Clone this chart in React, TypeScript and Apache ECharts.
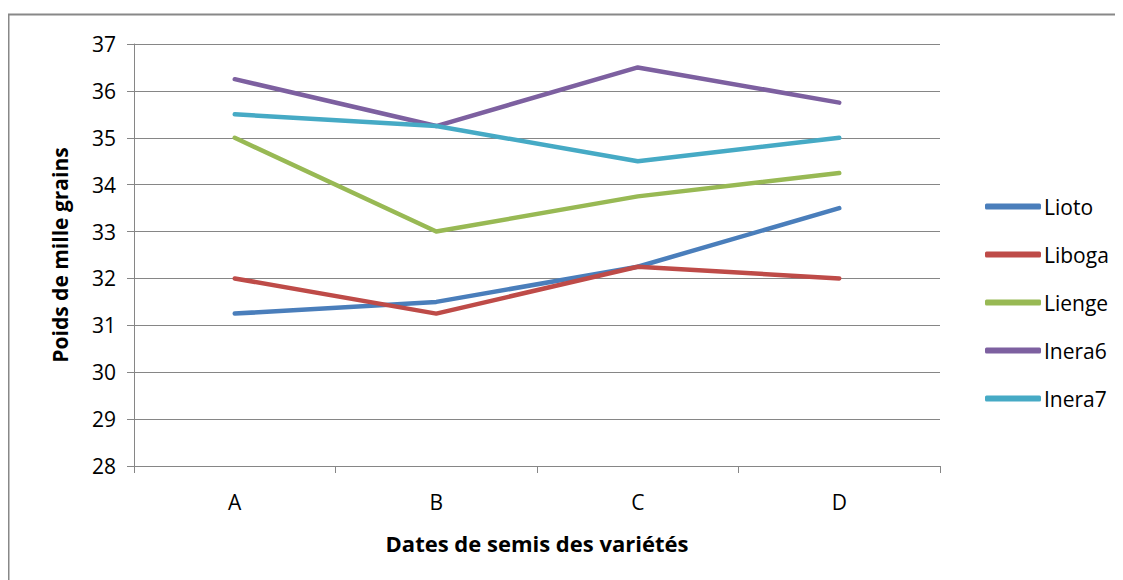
import React, { useEffect, useRef } from "react";
import * as echarts from "echarts";

const categories = ["A", "B", "C", "D"];
const lioto = [31.25, 31.5, 32.25, 33.5];
const liboga = [32, 31.25, 32.25, 32];
const lienge = [35, 33, 33.75, 34.25];
const inera6 = [36.25, 35.25, 36.5, 35.75];
const inera7 = [35.5, 35.25, 34.5, 35];
const seriesNames = ["Lioto", "Liboga", "Lienge", "Inera6", "Inera7"];
const seriesData = [lioto, liboga, lienge, inera6, inera7];
const colors = ["#4A7EBB", "#BE4B48", "#98B954", "#7D60A0", "#46AAC5"];

const FONT = "Open Sans";

export default function App() {
  const ref = useRef<HTMLDivElement>(null);
  useEffect(() => {
    if (!ref.current) return;
    const chart = echarts.init(ref.current, null, { renderer: "svg" });
    chart.setOption({
      animation: false,
      backgroundColor: "#fff",
      textStyle: { fontFamily: FONT },
      grid: { left: 126, top: 36, width: 806, height: 422, containLabel: false },
      legend: {
        orient: "vertical",
        left: 972,
        top: 183,
        itemWidth: 56,
        itemHeight: 6,
        itemGap: 27,
        icon: "roundRect",
        data: seriesNames,
        textStyle: { fontFamily: FONT, fontSize: 21, color: "#000", padding: [0, 0, 0, -2] },
      },
      xAxis: {
        type: "category",
        data: categories,
        boundaryGap: true,
        axisLine: { lineStyle: { color: "#868686", width: 1 } },
        axisTick: { show: true, length: 7, lineStyle: { color: "#868686" } },
        axisLabel: { color: "#000", fontSize: 21, fontFamily: FONT, margin: 25 },
        name: "Dates de semis des variétés",
        nameLocation: "middle",
        nameGap: 66,
        nameTextStyle: { color: "#000", fontSize: 22, fontWeight: "bold", fontFamily: FONT },
      },
      yAxis: {
        type: "value",
        min: 28,
        max: 37,
        interval: 1,
        axisLine: { show: true, lineStyle: { color: "#868686", width: 1 } },
        axisTick: { show: true, length: 7, lineStyle: { color: "#868686" } },
        splitLine: { lineStyle: { color: "#868686", width: 1 } },
        axisLabel: { color: "#000", fontSize: 21, fontFamily: FONT, margin: 18 },
        name: "Poids de mille grains",
        nameLocation: "middle",
        nameGap: 64,
        nameTextStyle: { color: "#000", fontSize: 21, fontWeight: "bold", fontFamily: FONT },
      },
      series: seriesNames.map((n, i) => ({
        name: n,
        type: "line",
        data: seriesData[i],
        symbol: "none",
        color: colors[i],
        lineStyle: { width: 4.5, color: colors[i], cap: "round", join: "round" },
      })),
      graphic: [
        {
          type: "rect",
          shape: { x: 0.5, y: 6.5, width: 1200, height: 700 },
          style: { fill: "none", stroke: "#888", lineWidth: 2 },
          silent: true,
        },
      ],
    });
    return () => chart.dispose();
  }, []);
  return <div ref={ref} style={{ width: 1115, height: 572 }} />;
}
